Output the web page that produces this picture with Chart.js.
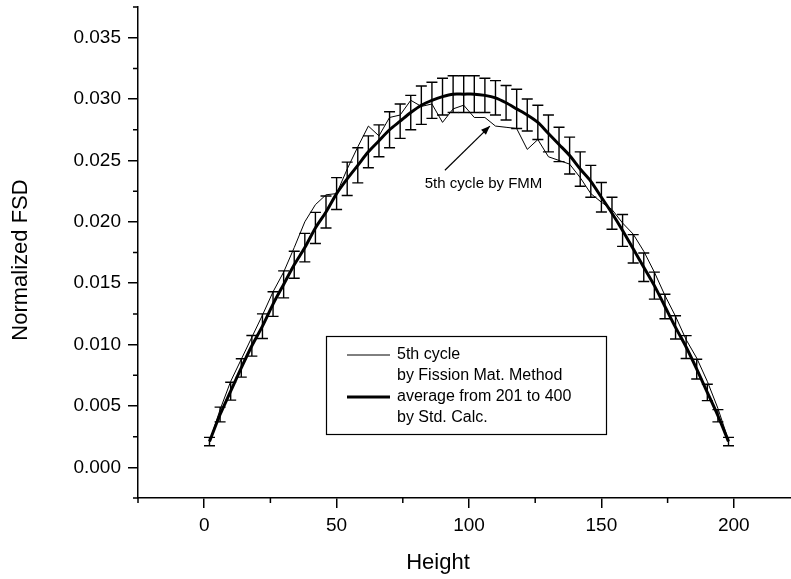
<!DOCTYPE html>
<html>
<head>
<meta charset="utf-8">
<script src="https://cdn.jsdelivr.net/npm/chart.js@4.4.1/dist/chart.umd.min.js"></script>
<style>
  html, body { margin: 0; padding: 0; background: #fff; overflow: hidden; }
  #wrap { width: 801px; height: 579px; }
</style>
</head>
<body>
<div id="wrap"><canvas id="fsdChart" width="801" height="579"></canvas></div>
<script>
// Height positions (cm) of the axial tallies
const heights = [2, 6, 10, 14, 18, 22, 26, 30, 34, 38, 42, 46, 50, 54, 58, 62, 66, 70, 74, 78,
  82, 86, 90, 94, 98, 102, 106, 110, 114, 118, 122, 126, 130, 134, 138, 142, 146, 150, 154, 158,
  162, 166, 170, 174, 178, 182, 186, 190, 194, 198];

// 5th cycle by fission matrix method (thin line)
const fmmCycle5 = [0.0021, 0.0047, 0.0070, 0.0088, 0.0106, 0.0124, 0.0143, 0.0159, 0.0179, 0.0200,
  0.0214, 0.0222, 0.0223, 0.0243, 0.0261, 0.0278, 0.0270, 0.0285, 0.0287, 0.0299,
  0.0294, 0.0296, 0.0281, 0.0292, 0.0295, 0.0285, 0.0285, 0.0278, 0.0277, 0.0276,
  0.0259, 0.0267, 0.0253, 0.0250, 0.0247, 0.0236, 0.0223, 0.0216, 0.0210, 0.0199,
  0.0190, 0.0176, 0.0159, 0.0140, 0.0123, 0.0104, 0.0089, 0.0070, 0.0048, 0.0022];

// average of cycles 201-400 by standard calculation (thick line)
const stdAverage = [0.0021, 0.0043, 0.0062, 0.0081, 0.0099, 0.0115, 0.0133, 0.0149, 0.0165, 0.0179,
  0.0195, 0.0208, 0.0223, 0.0235, 0.0246, 0.0257, 0.0266, 0.0275, 0.0282, 0.0289,
  0.0295, 0.0299, 0.0302, 0.0304, 0.0304, 0.0304, 0.0303, 0.0301, 0.0297, 0.0292,
  0.0287, 0.0281, 0.0272, 0.0263, 0.0254, 0.0243, 0.0233, 0.0220, 0.0207, 0.0193,
  0.0178, 0.0163, 0.0148, 0.0131, 0.0114, 0.0098, 0.0080, 0.0061, 0.0042, 0.0021];

// half width of the error bars
const stdError = [0.00034, 0.0006, 0.00073, 0.00075, 0.00084, 0.0010, 0.0010, 0.0011, 0.0011, 0.00116,
  0.00127, 0.0013, 0.0013, 0.00136, 0.00143, 0.0013, 0.0013, 0.00147, 0.0014, 0.0014,
  0.00156, 0.00147, 0.0015, 0.0015, 0.0015, 0.0015, 0.0014, 0.0014, 0.0014, 0.0016,
  0.0013, 0.0014, 0.0015, 0.0014, 0.0015, 0.0014, 0.0013, 0.0012, 0.0013, 0.0013,
  0.00116, 0.00116, 0.0011, 0.0010, 0.00095, 0.00093, 0.0008, 0.00067, 0.0005, 0.00034];

const xTicks = [0, 50, 100, 150, 200];
const xMinorTicks = [-25, 25, 75, 125, 175, 225];
const yTicks = [0, 0.005, 0.010, 0.015, 0.020, 0.025, 0.030, 0.035];
const yMinorTicks = [-0.0025, 0.0025, 0.0075, 0.0125, 0.0175, 0.0225, 0.0275, 0.0325, 0.0375];

const legendLines = [
  ['5th cycle', 'by Fission Mat. Method'],
  ['average from 201 to 400', 'by Std. Calc.']
];
const arrowNote = { text: '5th cycle by FMM', textX: 83.3, textY: 0.0231, fromX: 90.9, fromY: 0.0242, toX: 107.9, toY: 0.0278 };

const FONT = '"Liberation Sans", Arial, sans-serif';

// error bars with caps, drawn from the std. calc. average
const errorBars = {
  id: 'errorBars',
  afterDatasetsDraw(chart) {
    const { ctx, scales: { x, y } } = chart;
    ctx.save();
    ctx.strokeStyle = '#000';
    ctx.lineWidth = 1.4;
    heights.forEach((h, i) => {
      const px = x.getPixelForValue(h);
      const top = y.getPixelForValue(stdAverage[i] + stdError[i]);
      const bot = y.getPixelForValue(stdAverage[i] - stdError[i]);
      ctx.beginPath();
      ctx.moveTo(px, top); ctx.lineTo(px, bot);
      ctx.moveTo(px - 5.5, top); ctx.lineTo(px + 5.5, top);
      ctx.moveTo(px - 5.5, bot); ctx.lineTo(px + 5.5, bot);
      ctx.stroke();
    });
    ctx.restore();
  }
};

// short minor ticks, axis titles, legend box and arrow note
const decorations = {
  id: 'decorations',
  afterDraw(chart) {
    const { ctx, chartArea: area, scales: { x, y } } = chart;
    ctx.save();
    ctx.strokeStyle = '#000';
    ctx.fillStyle = '#000';
    ctx.lineWidth = 1.5;
    ctx.beginPath();
    xMinorTicks.forEach(v => {
      const px = x.getPixelForValue(v);
      ctx.moveTo(px, area.bottom); ctx.lineTo(px, area.bottom + 5);
    });
    yMinorTicks.forEach(v => {
      const py = y.getPixelForValue(v);
      ctx.moveTo(area.left, py); ctx.lineTo(area.left - 5, py);
    });
    ctx.stroke();

    // axis titles
    ctx.font = '22px ' + FONT;
    ctx.textAlign = 'center';
    ctx.textBaseline = 'middle';
    ctx.fillText('Height', 438, 563);
    ctx.save();
    ctx.translate(21, 260);
    ctx.rotate(-Math.PI / 2);
    ctx.fillText('Normalized FSD', 0, 0);
    ctx.restore();

    // legend
    ctx.lineWidth = 1.2;
    ctx.strokeRect(326.5, 336.5, 280, 98);
    ctx.font = '16px ' + FONT;
    ctx.textAlign = 'left';
    const rowY = [355, 397];
    legendLines.forEach((lines, i) => {
      ctx.beginPath();
      ctx.lineWidth = i === 0 ? 1 : 3;
      ctx.moveTo(347, rowY[i]); ctx.lineTo(390, rowY[i]);
      ctx.stroke();
      ctx.fillText(lines[0], 397, rowY[i]);
      ctx.fillText(lines[1], 397, rowY[i] + 21);
    });

    // arrow note
    const fx = x.getPixelForValue(arrowNote.fromX), fy = y.getPixelForValue(arrowNote.fromY);
    const tx = x.getPixelForValue(arrowNote.toX), ty = y.getPixelForValue(arrowNote.toY);
    ctx.lineWidth = 1.2;
    ctx.beginPath();
    ctx.moveTo(fx, fy); ctx.lineTo(tx, ty);
    ctx.stroke();
    const ang = Math.atan2(ty - fy, tx - fx);
    ctx.beginPath();
    ctx.moveTo(tx, ty);
    ctx.lineTo(tx - 9 * Math.cos(ang) + 3.5 * Math.sin(ang), ty - 9 * Math.sin(ang) - 3.5 * Math.cos(ang));
    ctx.lineTo(tx - 9 * Math.cos(ang) - 3.5 * Math.sin(ang), ty - 9 * Math.sin(ang) + 3.5 * Math.cos(ang));
    ctx.closePath();
    ctx.fill();
    ctx.font = '15px ' + FONT;
    ctx.fillText(arrowNote.text, x.getPixelForValue(arrowNote.textX), y.getPixelForValue(arrowNote.textY));
    ctx.restore();
  }
};

const ctx = document.getElementById('fsdChart').getContext('2d');
new Chart(ctx, {
  type: 'line',
  data: {
    datasets: [{
      label: 'average from 201 to 400 by Std. Calc.',
      data: heights.map((h, i) => ({ x: h, y: stdAverage[i] })),
      borderColor: '#000',
      borderWidth: 3,
      pointRadius: 0,
      tension: 0.3,
      fill: false,
      order: 1
    },
    {
      label: '5th cycle by Fission Mat. Method',
      data: heights.map((h, i) => ({ x: h, y: fmmCycle5[i] })),
      borderColor: '#000',
      borderWidth: 1,
      pointRadius: 0,
      tension: 0,
      fill: false,
      order: 2
    }]
  },
  options: {
    responsive: false,
    animation: false,
    layout: { padding: { top: 7, right: 1, left: 0, bottom: 0 } },
    plugins: {
      legend: { display: false },
      tooltip: { enabled: false }
    },
    scales: {
      x: {
        type: 'linear',
        min: -25,
        max: 225,
        afterBuildTicks: axis => { axis.ticks = xTicks.map(v => ({ value: v })); },
        afterFit: axis => { axis.height = 81; axis.paddingLeft = 0; axis.paddingRight = 0; },
        border: { display: true, color: '#000', width: 1.5 },
        grid: { drawOnChartArea: false, drawTicks: true, tickLength: 10, color: '#000', lineWidth: 1.5 },
        ticks: { color: '#000', font: { size: 19, family: FONT }, padding: 6, maxRotation: 0 }
      },
      y: {
        min: -0.0025,
        max: 0.0375,
        afterBuildTicks: axis => { axis.ticks = yTicks.map(v => ({ value: v })); },
        afterFit: axis => { axis.width = 138; axis.paddingTop = 0; axis.paddingBottom = 0; },
        border: { display: true, color: '#000', width: 1.5 },
        grid: { drawOnChartArea: false, drawTicks: true, tickLength: 10, color: '#000', lineWidth: 1.5 },
        ticks: { color: '#000', font: { size: 19, family: FONT }, padding: 7, callback: v => v.toFixed(3) }
      }
    }
  },
  plugins: [errorBars, decorations]
});
</script>
</body>
</html>
